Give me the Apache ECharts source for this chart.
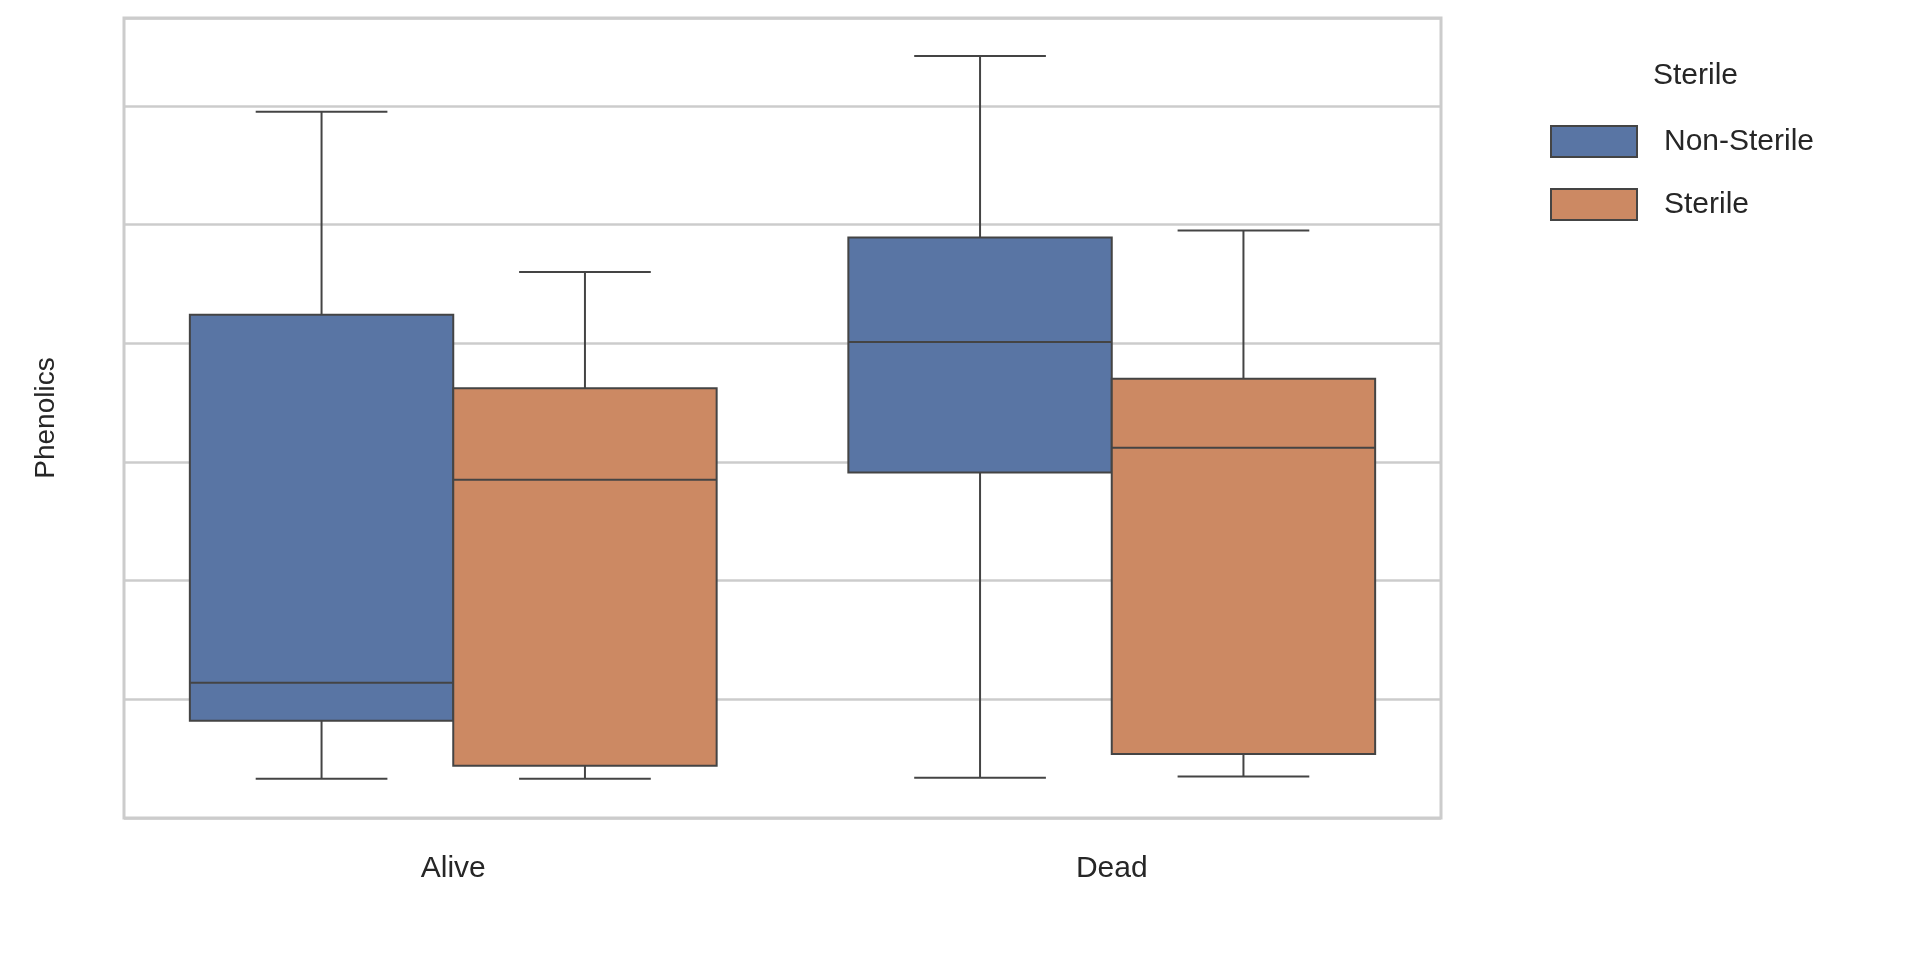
<!DOCTYPE html>
<html><head><meta charset="utf-8">
<script src="https://cdn.jsdelivr.net/npm/echarts@6/dist/echarts.min.js"></script>
<style>html,body{margin:0;background:#fff}#c{width:1920px;height:959px}</style>
</head><body><div id="c"></div>
<script>
const categories = ['Alive', 'Dead'];
const hues = ['Non-Sterile', 'Sterile'];
const colors = ['#5975a4', '#cc8963'];
// [min, q1, median, q3, max] per category
const nonSterile = [[0.01, 0.50, 0.82, 3.92, 5.63], [0.02, 2.59, 3.69, 4.57, 6.10]];
const sterile = [[0.01, 0.12, 2.53, 3.30, 4.28], [0.03, 0.22, 2.80, 3.38, 4.63]];
const yTicks = [0, 1, 2, 3, 4, 5, 6];

const lineColor = '#444444';

function makeSeries(name, stats, hueIdx) {
  return {
    name,
    type: 'custom',
    itemStyle: { color: colors[hueIdx], borderColor: lineColor, borderWidth: 2 },
    data: stats.map((s, i) => [i, ...s]),
    encode: { x: 0, y: [1, 2, 3, 4, 5] },
    renderItem: (params, api) => {
      const band = api.size([1, 0])[0];
      const boxW = band * 0.4;
      const cx = api.coord([api.value(0), 0])[0] + (hueIdx === 0 ? -boxW / 2 : boxW / 2);
      const y = (k) => api.coord([api.value(0), api.value(k)])[1];
      const [yMin, yQ1, yMed, yQ3, yMax] = [y(1), y(2), y(3), y(4), y(5)];
      const ls = { stroke: lineColor, lineWidth: 2 };
      const cap = boxW / 4;
      return {
        type: 'group',
        children: [
          { type: 'line', shape: { x1: cx, y1: yQ3, x2: cx, y2: yMax }, style: ls },
          { type: 'line', shape: { x1: cx, y1: yQ1, x2: cx, y2: yMin }, style: ls },
          { type: 'line', shape: { x1: cx - cap, y1: yMax, x2: cx + cap, y2: yMax }, style: ls },
          { type: 'line', shape: { x1: cx - cap, y1: yMin, x2: cx + cap, y2: yMin }, style: ls },
          { type: 'rect', shape: { x: cx - boxW / 2, y: yQ3, width: boxW, height: yQ1 - yQ3 },
            style: { fill: colors[hueIdx], stroke: lineColor, lineWidth: 2 } },
          { type: 'line', shape: { x1: cx - boxW / 2, y1: yMed, x2: cx + boxW / 2, y2: yMed }, style: ls }
        ]
      };
    }
  };
}

const chart = echarts.init(document.getElementById('c'));
chart.setOption({
  animation: false,
  textStyle: { fontFamily: 'Arial, Liberation Sans, sans-serif' },
  grid: { left: 124, right: 479, top: 18, bottom: 141, show: true, borderColor: '#cccccc', borderWidth: 3 },
  xAxis: {
    type: 'category', data: categories,
    axisLine: { show: false }, axisTick: { show: false },
    axisLabel: { color: '#262626', fontSize: 30, margin: 36 }
  },
  yAxis: {
    type: 'value', min: -0.32, max: 6.42, interval: 1,
    name: 'Phenolics', nameLocation: 'middle', nameGap: 64, nameRotate: 90,
    nameTextStyle: { color: '#262626', fontSize: 28 },
    axisLine: { show: false }, axisTick: { show: false },
    axisLabel: { color: '#262626', fontSize: 30, margin: 22,
      formatter: (v) => (yTicks.includes(v) ? String(v) : '') },
    splitLine: { lineStyle: { color: '#cccccc', width: 2.5 } }
  },
  title: { text: 'Sterile', left: 1648, top: 56, textStyle: { color: '#262626', fontSize: 30, fontWeight: 'normal' } },
  legend: {
    orient: 'vertical', left: 1545, top: 120, icon: 'rect',
    itemWidth: 86, itemHeight: 31, itemGap: 30,
    textStyle: { color: '#262626', fontSize: 30, padding: [0, 0, 0, 22] },
    data: hues
  },
  series: [makeSeries(hues[0], nonSterile, 0), makeSeries(hues[1], sterile, 1)]
});
</script></body></html>
